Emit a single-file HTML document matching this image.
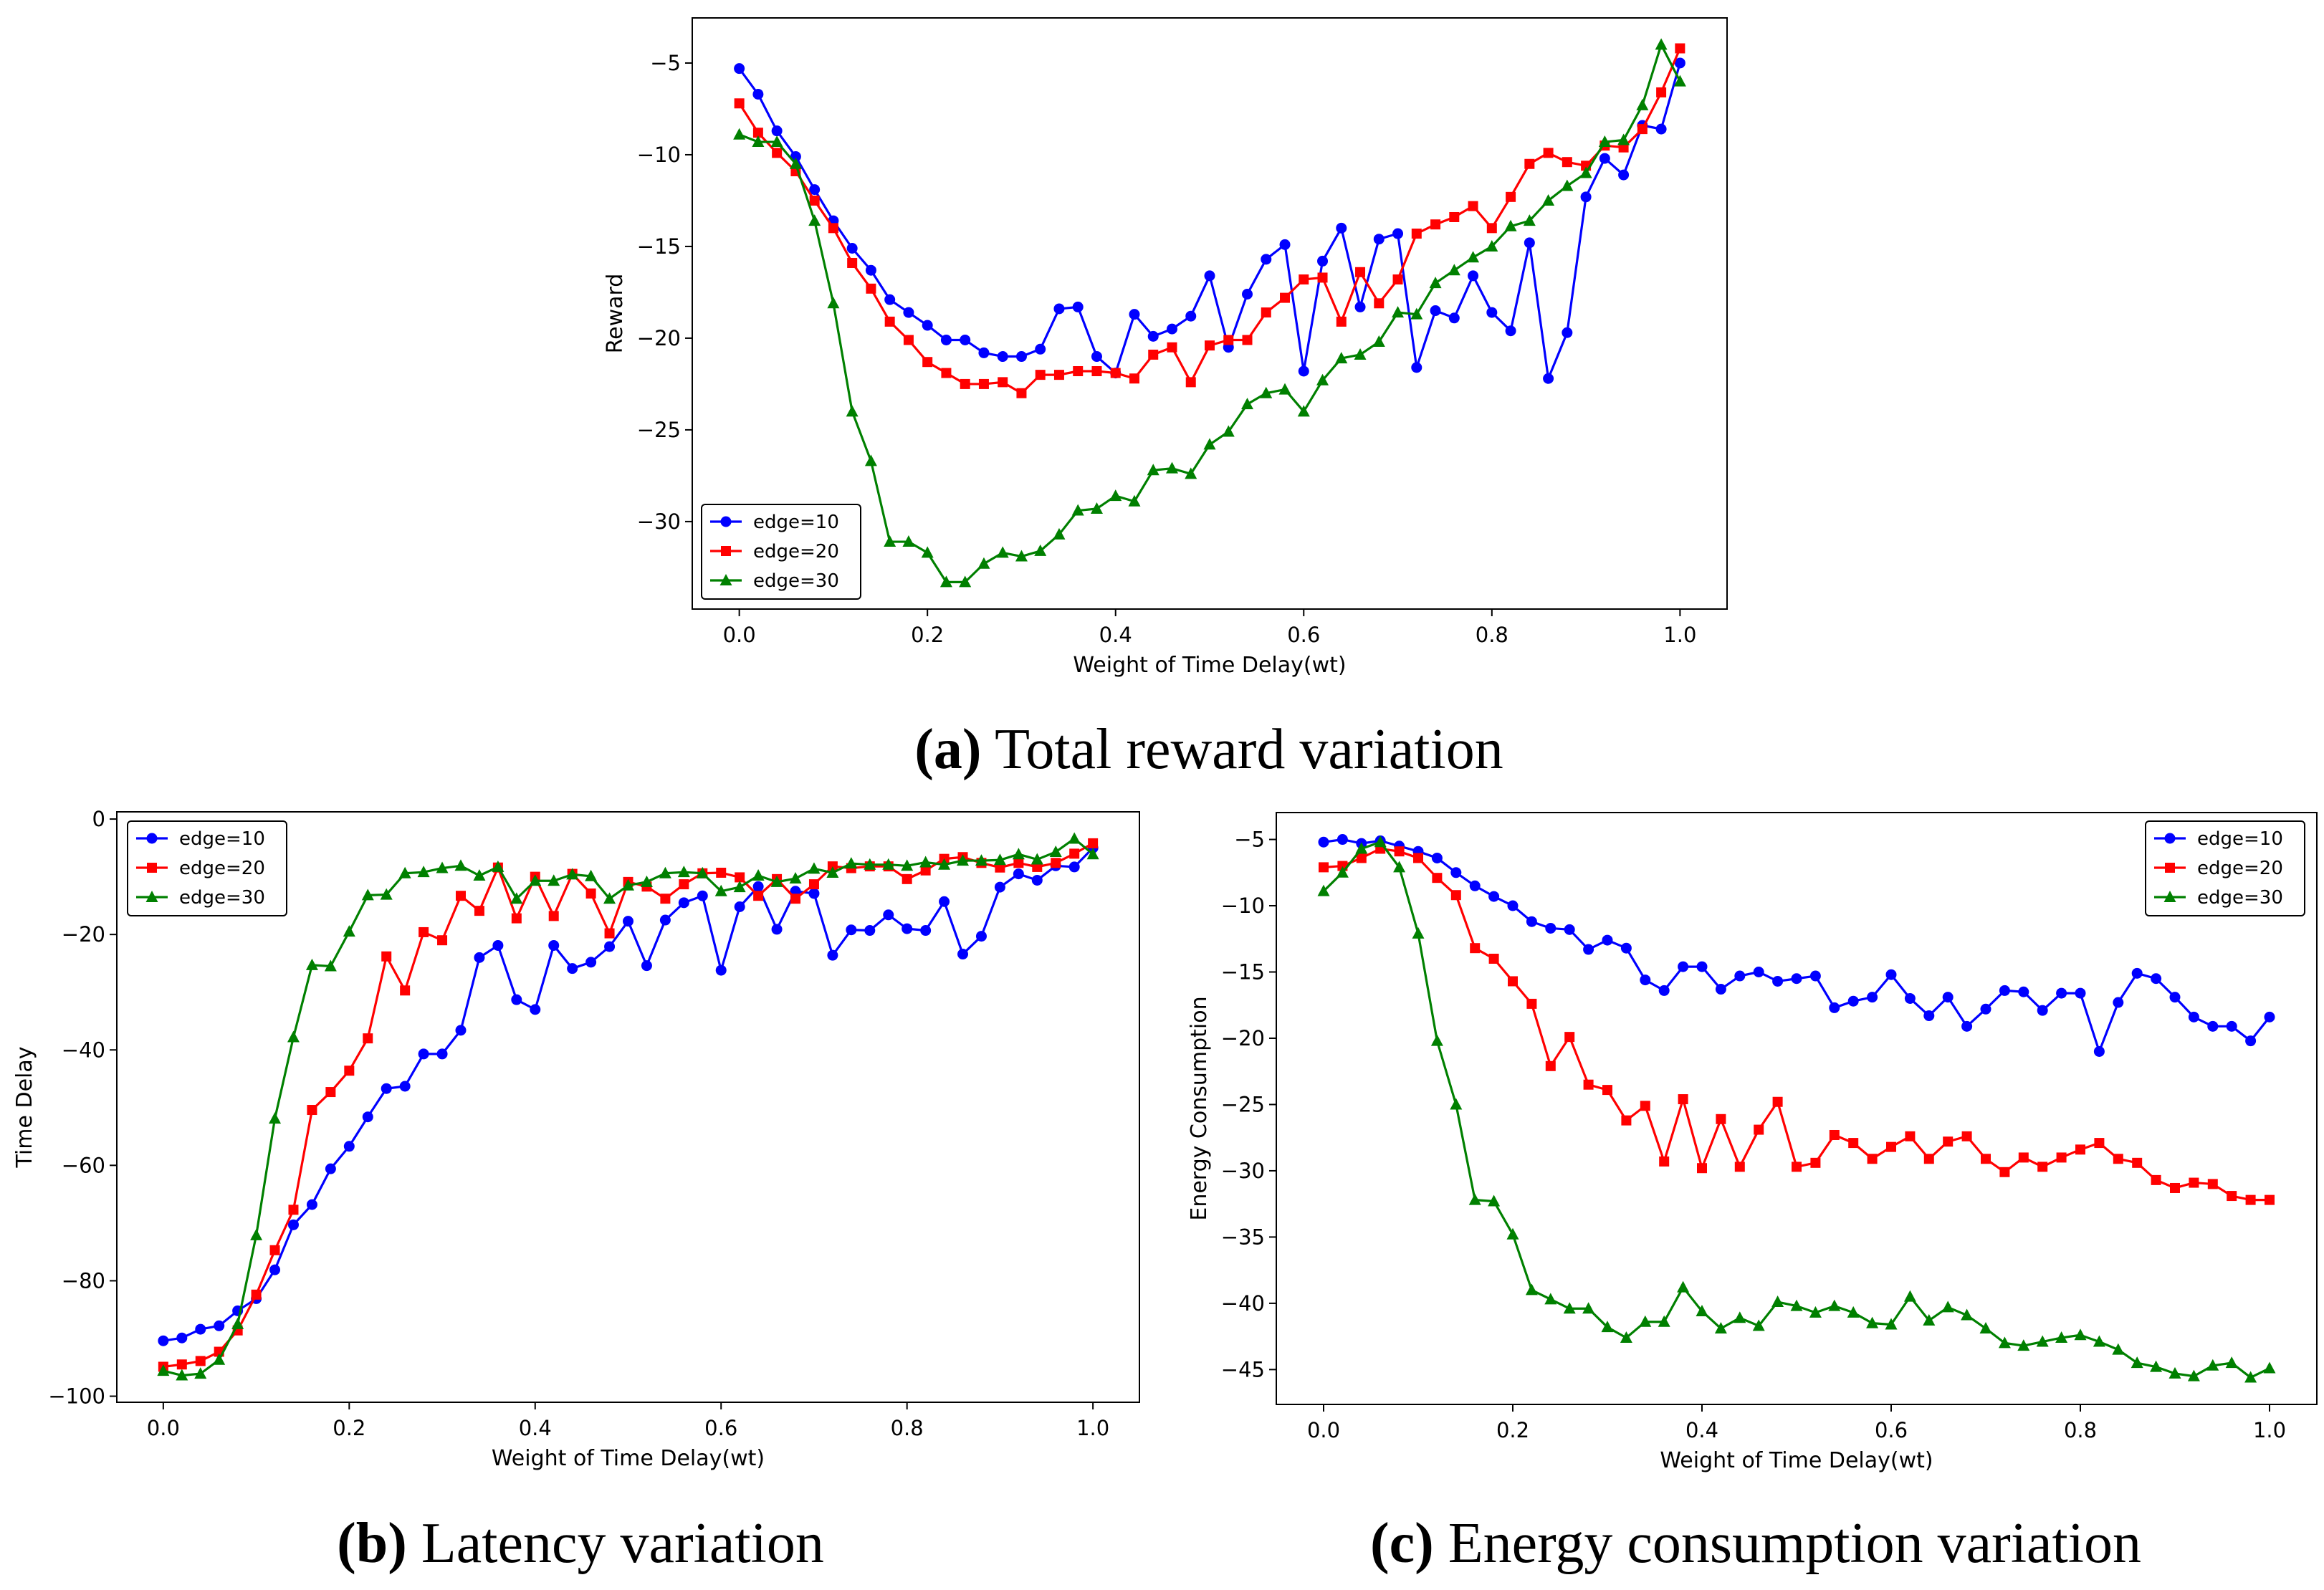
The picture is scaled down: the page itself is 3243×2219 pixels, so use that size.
<!DOCTYPE html>
<html><head><meta charset="utf-8"><style>
html,body{margin:0;padding:0;background:#fff;}
svg{display:block;}
</style></head><body>
<svg id="fig" width="3243" height="2219" viewBox="0 0 3243 2219" xmlns="http://www.w3.org/2000/svg" font-family="'DejaVu Sans','Liberation Sans',sans-serif">
<text x="1687" y="1072" text-anchor="middle" font-family="'Liberation Serif',serif" font-size="80"><tspan font-weight="bold">(a)</tspan> Total reward variation</text>
<text x="810" y="2180" text-anchor="middle" font-family="'Liberation Serif',serif" font-size="80"><tspan font-weight="bold">(b)</tspan> Latency variation</text>
<text x="2450" y="2180" text-anchor="middle" font-family="'Liberation Serif',serif" font-size="80"><tspan font-weight="bold">(c)</tspan> Energy consumption variation</text>
</svg>
<script>
const xs = [];
for (let i = 0; i <= 50; i++) xs.push(i / 50);
const xTicks = [0, 0.2, 0.4, 0.6, 0.8, 1.0];
const xTickLabels = ["0.0", "0.2", "0.4", "0.6", "0.8", "1.0"];
const seriesNames = ["edge=10", "edge=20", "edge=30"];

const rewardE10 = [-5.3,-6.7,-8.7,-10.1,-11.9,-13.6,-15.1,-16.3,-17.9,-18.6,-19.3,-20.1,-20.1,-20.8,-21.0,-21.0,-20.6,-18.4,-18.3,-21.0,-21.9,-18.7,-19.9,-19.5,-18.8,-16.6,-20.5,-17.6,-15.7,-14.9,-21.8,-15.8,-14.0,-18.3,-14.6,-14.3,-21.6,-18.5,-18.9,-16.6,-18.6,-19.6,-14.8,-22.2,-19.7,-12.3,-10.2,-11.1,-8.4,-8.6,-5.0];
const rewardE20 = [-7.2,-8.8,-9.9,-10.9,-12.5,-14.0,-15.9,-17.3,-19.1,-20.1,-21.3,-21.9,-22.5,-22.5,-22.4,-23.0,-22.0,-22.0,-21.8,-21.8,-21.9,-22.2,-20.9,-20.5,-22.4,-20.4,-20.1,-20.1,-18.6,-17.8,-16.8,-16.7,-19.1,-16.4,-18.1,-16.8,-14.3,-13.8,-13.4,-12.8,-14.0,-12.3,-10.5,-9.9,-10.4,-10.6,-9.5,-9.6,-8.6,-6.6,-4.2];
const rewardE30 = [-8.9,-9.3,-9.3,-10.5,-13.6,-18.1,-24.0,-26.7,-31.1,-31.1,-31.7,-33.3,-33.3,-32.3,-31.7,-31.9,-31.6,-30.7,-29.4,-29.3,-28.6,-28.9,-27.2,-27.1,-27.4,-25.8,-25.1,-23.6,-23.0,-22.8,-24.0,-22.3,-21.1,-20.9,-20.2,-18.6,-18.7,-17.0,-16.3,-15.6,-15.0,-13.9,-13.6,-12.5,-11.7,-11.0,-9.3,-9.2,-7.3,-4.0,-6.0];
const rewardTicks = [-5, -10, -15, -20, -25, -30];

const delayE10 = [-90.4,-89.9,-88.4,-87.8,-85.2,-83.1,-78.1,-70.3,-66.8,-60.6,-56.7,-51.6,-46.7,-46.3,-40.7,-40.7,-36.6,-24.0,-21.9,-31.3,-33.0,-21.9,-25.9,-24.8,-22.1,-17.7,-25.4,-17.5,-14.5,-13.3,-26.2,-15.2,-11.7,-19.1,-12.5,-12.9,-23.6,-19.2,-19.3,-16.6,-19.0,-19.3,-14.3,-23.4,-20.3,-11.8,-9.5,-10.6,-8.1,-8.3,-5.0];
const delayE20 = [-94.9,-94.5,-93.9,-92.3,-88.6,-82.4,-74.7,-67.7,-50.4,-47.3,-43.6,-38.0,-23.8,-29.7,-19.6,-21.0,-13.3,-15.9,-8.4,-17.2,-10.0,-16.8,-9.5,-12.9,-19.8,-10.9,-11.7,-13.8,-11.3,-9.4,-9.3,-10.1,-13.3,-10.4,-13.8,-11.3,-8.2,-8.5,-8.2,-8.2,-10.4,-8.9,-6.9,-6.6,-7.6,-8.4,-7.6,-8.3,-7.6,-6.0,-4.2];
const delayE30 = [-95.6,-96.4,-96.1,-93.7,-87.5,-72.1,-51.9,-37.8,-25.3,-25.5,-19.5,-13.2,-13.1,-9.4,-9.2,-8.5,-8.1,-9.8,-8.3,-13.8,-10.7,-10.7,-9.6,-9.9,-13.8,-11.5,-10.9,-9.4,-9.2,-9.4,-12.5,-11.8,-9.8,-10.9,-10.3,-8.6,-9.3,-7.7,-7.9,-7.9,-8.1,-7.5,-7.9,-7.2,-7.2,-7.1,-6.1,-7.0,-5.7,-3.4,-6.1];
const delayTicks = [0, -20, -40, -60, -80, -100];

const energyE10 = [-5.2,-5.0,-5.3,-5.1,-5.5,-5.9,-6.4,-7.5,-8.5,-9.3,-10.0,-11.2,-11.7,-11.8,-13.3,-12.6,-13.2,-15.6,-16.4,-14.6,-14.6,-16.3,-15.3,-15.0,-15.7,-15.5,-15.3,-17.7,-17.2,-16.9,-15.2,-17.0,-18.3,-16.9,-19.1,-17.8,-16.4,-16.5,-17.9,-16.6,-16.6,-21.0,-17.3,-15.1,-15.5,-16.9,-18.4,-19.1,-19.1,-20.2,-18.4];
const energyE20 = [-7.1,-7.0,-6.4,-5.7,-5.9,-6.4,-7.9,-9.2,-13.2,-14.0,-15.7,-17.4,-22.1,-19.9,-23.5,-23.9,-26.2,-25.1,-29.3,-24.6,-29.8,-26.1,-29.7,-26.9,-24.8,-29.7,-29.4,-27.3,-27.9,-29.1,-28.2,-27.4,-29.1,-27.8,-27.4,-29.1,-30.1,-29.0,-29.7,-29.0,-28.4,-27.9,-29.1,-29.4,-30.7,-31.3,-30.9,-31.0,-31.9,-32.2,-32.2];
const energyE30 = [-8.9,-7.5,-5.7,-5.2,-7.1,-12.1,-20.2,-25.0,-32.2,-32.3,-34.8,-39.0,-39.7,-40.4,-40.4,-41.8,-42.6,-41.4,-41.4,-38.8,-40.6,-41.9,-41.1,-41.7,-39.9,-40.2,-40.7,-40.2,-40.7,-41.5,-41.6,-39.5,-41.3,-40.3,-40.9,-41.9,-43.0,-43.2,-42.9,-42.6,-42.4,-42.9,-43.5,-44.5,-44.8,-45.3,-45.5,-44.7,-44.5,-45.6,-44.9];
const energyTicks = [-5, -10, -15, -20, -25, -30, -35, -40, -45];

const NS = "http://www.w3.org/2000/svg";
const svg = document.getElementById("fig");
const colors = ["#0000ff", "#ff0000", "#008000"];
const markers = ["circle", "square", "triangle"];

function mk(tag, attrs, parent) {
  const e = document.createElementNS(NS, tag);
  for (const k in attrs) e.setAttribute(k, attrs[k]);
  (parent || svg).appendChild(e);
  return e;
}
function marker(g, type, x, y, color) {
  let m;
  if (type === "circle") m = mk("circle", {cx: x, cy: y, r: 7.5, fill: color}, g);
  else if (type === "square") m = mk("rect", {x: x - 7, y: y - 7, width: 14, height: 14, fill: color}, g);
  else m = mk("polygon", {points: `${x},${y-9} ${x-8.5},${y+7} ${x+8.5},${y+7}`, fill: color}, g);
  return m;
}
function fmt(v) { return v < 0 ? "\u2212" + Math.abs(v) : String(v); }

function chart(cfg) {
  const {id, L, R, T, B, ymin, ymax, yTicks, series, ylabel, ylabelX, legendX, legendY} = cfg;
  const g = mk("g", {});
  
  
  const xmin = -0.05, xmax = 1.05;
  const sx = v => L + (v - xmin) / (xmax - xmin) * (R - L);
  const sy = v => B - (v - ymin) / (ymax - ymin) * (B - T);
  xTicks.forEach((t, i) => {
    const tick = mk("line", {x1: sx(t), x2: sx(t), y1: B, y2: B + 10, stroke: "#000", "stroke-width": 2}, g);
    
    
    const lb = mk("text", {x: sx(t), y: B + 46, "text-anchor": "middle", "font-size": 29}, g);
    
    
    lb.textContent = xTickLabels[i];
  });
  yTicks.forEach(t => {
    const tick = mk("line", {x1: L - 10, x2: L, y1: sy(t), y2: sy(t), stroke: "#000", "stroke-width": 2}, g);
    
    
    const lb = mk("text", {x: L - 16, y: sy(t) + 10, "text-anchor": "end", "font-size": 29}, g);
    
    
    lb.textContent = fmt(t);
  });
  const xl = mk("text", {x: (L + R) / 2, y: B + 88, "text-anchor": "middle", "font-size": 30}, g);
  
  
  xl.textContent = "Weight of Time Delay(wt)";
  const yl = mk("text", {x: ylabelX, y: (T + B) / 2, "text-anchor": "middle", "font-size": 30, transform: `rotate(-90 ${ylabelX} ${(T + B) / 2})`}, g);
  
  
  yl.textContent = ylabel;
  series.forEach((data, si) => {
    const sg = mk("g", {}, g);
    
    
    const pts = data.map((v, i) => sx(xs[i]) + "," + sy(v)).join(" ");
    const pl = mk("polyline", {points: pts, fill: "none", stroke: colors[si], "stroke-width": 3.2, "stroke-linejoin": "round"}, sg);
    
    
    data.forEach((v, i) => {
      const m = marker(sg, markers[si], sx(xs[i]), sy(v), colors[si]);
      
      
    });
  });
  const frame = mk("rect", {x: L, y: T, width: R - L, height: B - T, fill: "none", stroke: "#000", "stroke-width": 2}, g);
  
  
  const lg = mk("g", {}, g);
  
  
  const lbox = mk("rect", {x: legendX, y: legendY, width: 222, height: 132, rx: 5, fill: "#fff", stroke: "#000", "stroke-width": 2}, lg);
  
  
  seriesNames.forEach((n, i) => {
    const yy = legendY + 24 + i * 41;
    const ln = mk("line", {x1: legendX + 12, x2: legendX + 56, y1: yy, y2: yy, stroke: colors[i], "stroke-width": 3.2}, lg);
    
    
    const m = marker(lg, markers[i], legendX + 34, yy, colors[i]);
    
    
    const t = mk("text", {x: legendX + 72, y: yy + 9, "font-size": 26}, lg);
    
    
    t.textContent = n;
  });
}

chart({id: "reward", L: 966, R: 2410, T: 25, B: 850, ymin: -34.77, ymax: -2.54, yTicks: rewardTicks,
  series: [rewardE10, rewardE20, rewardE30], ylabel: "Reward", ylabelX: 868, legendX: 979, legendY: 704});
chart({id: "latency", L: 163, R: 1590, T: 1133, B: 1957, ymin: -101.05, ymax: 1.25, yTicks: delayTicks,
  series: [delayE10, delayE20, delayE30], ylabel: "Time Delay", ylabelX: 44, legendX: 178, legendY: 1146});
chart({id: "energy", L: 1781, R: 3233, T: 1134, B: 1960, ymin: -47.63, ymax: -2.97, yTicks: energyTicks,
  series: [energyE10, energyE20, energyE30], ylabel: "Energy Consumption", ylabelX: 1683, legendX: 2994, legendY: 1146});
</script>
</body></html>
